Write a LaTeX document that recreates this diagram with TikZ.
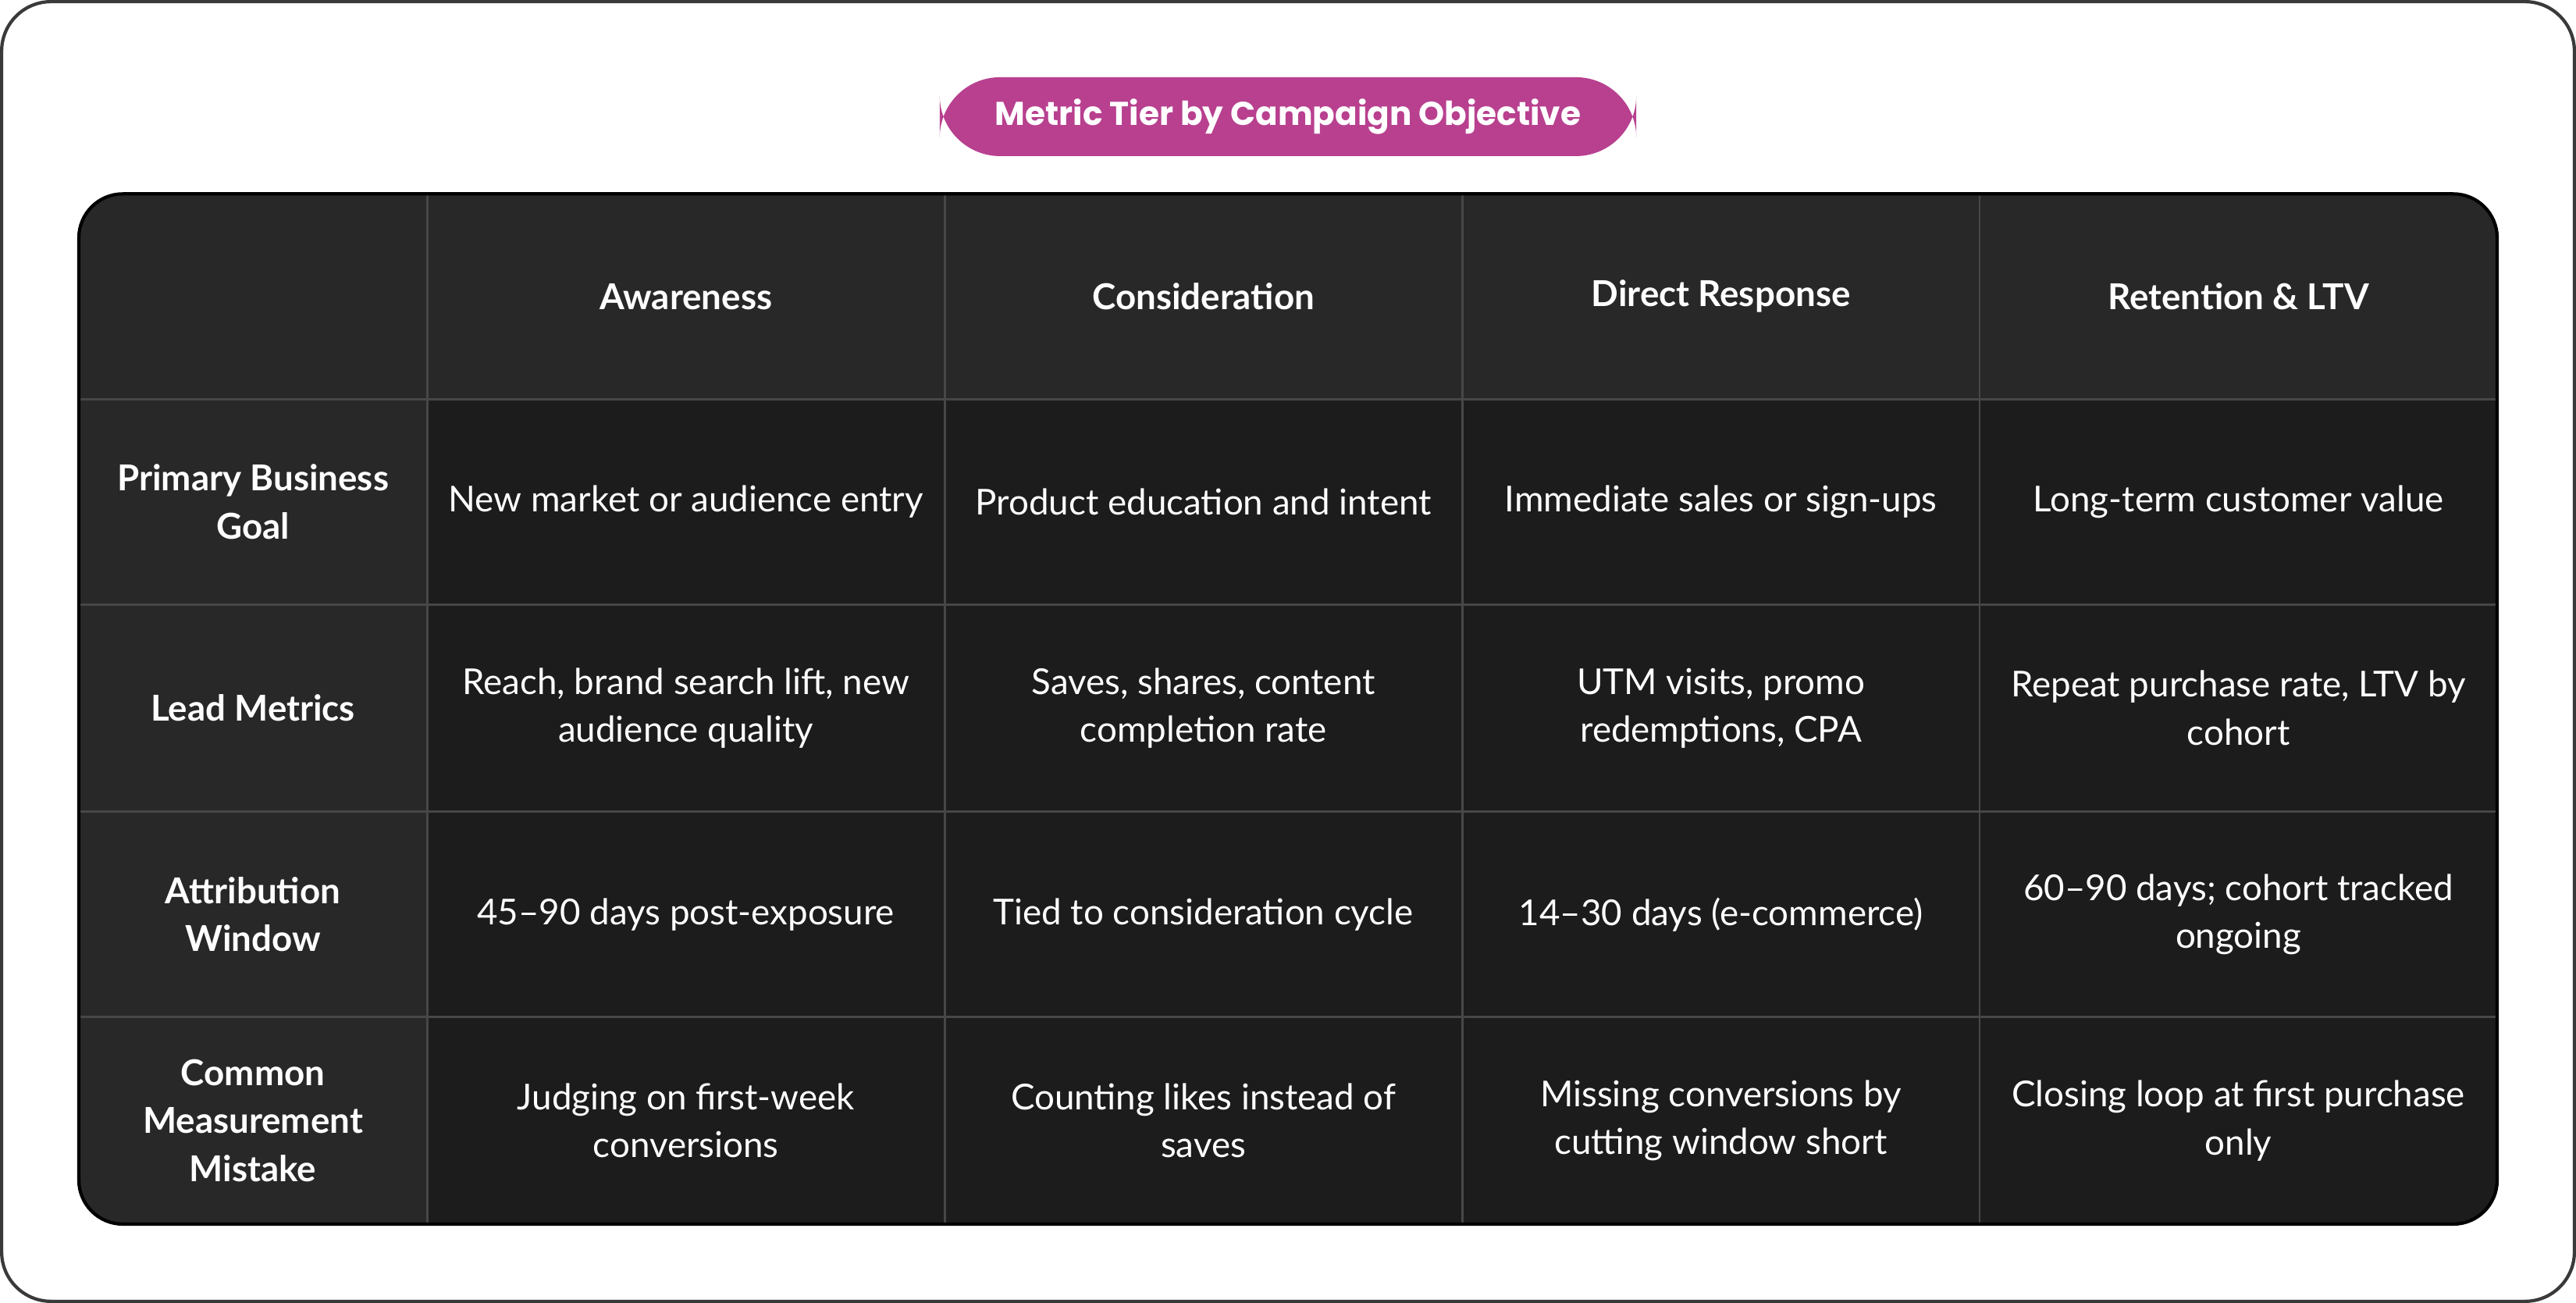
\documentclass[tikz,border=0pt]{standalone}
\usepackage{fontspec}
\setmainfont{Lato}
\newfontfamily\titlefont{Poppins}
\definecolor{pillmag}{HTML}{B8408F}
\definecolor{cellhead}{HTML}{282828}
\definecolor{cellbody}{HTML}{1C1C1C}
\definecolor{gridline}{HTML}{474747}
\definecolor{framegray}{HTML}{3A3A3A}
\begin{document}
\begin{tikzpicture}[
        x=0.021046cm, y=-0.021046cm,
        every node/.style={align=center, text=white, font=\fontsize{13}{17.5}\selectfont},
        head/.style={font=\fontsize{13}{17.5}\selectfont\bfseries},
        side/.style={font=\fontsize{13}{17.5}\selectfont\bfseries},
        cell/.style={}
    ]
        % Frame and title
        \useasboundingbox (0,0) rectangle (1568,793);
        \draw[framegray, line width=1.2pt, fill=white, rounded corners=18] (1,1) rectangle (1567,792);
        \fill[pillmag, rounded corners=22] (572,47) rectangle (996,95);
        \node[font=\titlefont\fontsize{12}{15}\selectfont\bfseries] (title) at (784,71) {Metric Tier by Campaign Objective};

        % Table background
        \begin{scope}
            \clip[rounded corners=16] (48,118) rectangle (1520,745);
            \fill[cellbody] (48,118) rectangle (1520,745);
            \fill[cellhead] (48,118) rectangle (1520,243);
            \fill[cellhead] (48,118) rectangle (260,745);
            \foreach \gx in {260,575,890,1205}
                \draw[gridline, line width=0.8pt] (\gx,118) -- (\gx,745);
            \foreach \gy in {243,368,494,619}
                \draw[gridline, line width=0.8pt] (48,\gy) -- (1520,\gy);
        \end{scope}
        \draw[black, line width=1.2pt, rounded corners=16] (48,118) rectangle (1520,745);

        % Header row
        \node[head] (aware) at (417.5,180.5) {Awareness};
        \node[head] (consid) at (732.5,180.5) {Consideration};
        \node[head] (direct) at (1047.5,180.5) {Direct Response};
        \node[head] (retain) at (1362.5,180.5) {Retention \& LTV};

        % Row labels
        \node[side] (goal) at (154,305.5) {Primary Business\\Goal};
        \node[side] (lead) at (154,431) {Lead Metrics};
        \node[side] (window) at (154,556.5) {Attribution\\Window};
        \node[side] (mistake) at (154,682) {Common\\Measurement\\Mistake};

        % Primary business goal
        \node[cell] (goalA) at (417.5,305.5) {New market or audience entry};
        \node[cell] (goalC) at (732.5,305.5) {Product education and intent};
        \node[cell] (goalD) at (1047.5,305.5) {Immediate sales or sign-ups};
        \node[cell] (goalR) at (1362.5,305.5) {Long-term customer value};

        % Lead metrics
        \node[cell] (leadA) at (417.5,431) {Reach, brand search lift, new\\audience quality};
        \node[cell] (leadC) at (732.5,431) {Saves, shares, content\\completion rate};
        \node[cell] (leadD) at (1047.5,431) {UTM visits, promo\\redemptions, CPA};
        \node[cell] (leadR) at (1362.5,431) {Repeat purchase rate, LTV by\\cohort};

        % Attribution window
        \node[cell] (winA) at (417.5,556.5) {45–90 days post-exposure};
        \node[cell] (winC) at (732.5,556.5) {Tied to consideration cycle};
        \node[cell] (winD) at (1047.5,556.5) {14–30 days (e-commerce)};
        \node[cell] (winR) at (1362.5,556.5) {60–90 days; cohort tracked\\ongoing};

        % Common mistake
        \node[cell] (misA) at (417.5,682) {Judging on first-week\\conversions};
        \node[cell] (misC) at (732.5,682) {Counting likes instead of\\saves};
        \node[cell] (misD) at (1047.5,682) {Missing conversions by\\cutting window short};
        \node[cell] (misR) at (1362.5,682) {Closing loop at first purchase\\only};
    \end{tikzpicture}
\end{document}
